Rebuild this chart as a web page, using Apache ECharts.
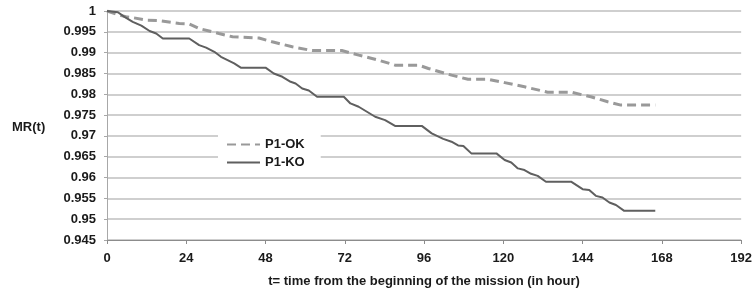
<!DOCTYPE html>
<html>
<head>
<meta charset="utf-8">
<script src="https://cdn.jsdelivr.net/npm/echarts@6/dist/echarts.min.js"></script>
<style>
	html,body{margin:0;padding:0;background:#fff;}
	#main{width:755px;height:293px;}
</style>
</head>
<body>
<div id="main"></div>
<script>
// hours and values
var okHours = [0, 3.8, 5.8, 7.8, 11.9, 15.4, 21.9, 24.9, 27.9, 30.9, 33.9, 38, 46, 50, 56.1, 62.1, 71.1, 76.2, 82.2, 87.2, 94.3, 97.3, 104.3, 109.3, 115.4, 120.4, 126.4, 133.4, 140.5, 146.5, 151.6, 155.6, 166];
var okValues = [1, 0.9990, 0.9986, 0.9984, 0.9978, 0.9977, 0.9970, 0.9969, 0.9958, 0.9952, 0.9946, 0.9938, 0.9935, 0.9926, 0.9914, 0.9905, 0.9905, 0.9894, 0.9882, 0.9870, 0.9870, 0.9862, 0.9846, 0.9836, 0.9836, 0.9828, 0.9818, 0.9805, 0.9805, 0.9794, 0.9782, 0.9774, 0.9774];

var koHours = [0, 3.3, 5.3, 7.8, 10.4, 12.9, 14.9, 16.9, 24.9, 27.9, 30, 32.5, 34.5, 36.5, 38.5, 40.5, 48, 50.5, 53.1, 55.6, 57.1, 59.1, 61.1, 63.6, 71.7, 73.7, 76.2, 78.7, 81.2, 84.2, 87.2, 95.3, 98.3, 101.8, 104.3, 106.3, 107.9, 110.3, 117.9, 120.4, 122.4, 124.4, 126.4, 128.4, 130.4, 132.9, 140.5, 144, 146, 148, 150, 152.1, 154.1, 156.6, 166];
var koValues = [1, 0.9997, 0.9986, 0.9974, 0.9965, 0.9952, 0.9946, 0.9934, 0.9934, 0.9918, 0.9912, 0.9902, 0.9890, 0.9882, 0.9874, 0.9864, 0.9864, 0.9850, 0.9842, 0.9830, 0.9826, 0.9814, 0.9809, 0.9794, 0.9794, 0.9778, 0.9770, 0.9758, 0.9746, 0.9738, 0.9724, 0.9724, 0.9706, 0.9693, 0.9686, 0.9677, 0.9676, 0.9658, 0.9658, 0.9642, 0.9636, 0.9622, 0.9618, 0.9609, 0.9604, 0.9590, 0.9590, 0.9572, 0.9570, 0.9556, 0.9552, 0.9540, 0.9534, 0.9520, 0.9520];

var seriesNames = ['P1-OK', 'P1-KO'];
var xTitle = 't= time from the beginning of the mission (in hour)';
var yTitle = 'MR(t)';

function pairs(xs, ys) {
	var out = [];
	for (var i = 0; i < xs.length; i++) {
		out.push([xs[i], ys[i]]);
	}
	return out;
}

var labelFont = {
	fontFamily: '"Liberation Sans", Arial, sans-serif',
	fontWeight: 'bold',
	fontSize: 13,
	color: '#1a1a1a'
};

var chart = echarts.init(document.getElementById('main'));

var option = {
	animation: false,
	grid: { left: 107, right: 12, top: 11, bottom: 53 },
	legend: {
		orient: 'vertical',
		left: 218,
		top: 132,
		padding: [6, 16, 4, 8],
		itemGap: 5,
		itemWidth: 33,
		itemHeight: 14,
		backgroundColor: '#fff',
		// only the line in the key, no dot
		itemStyle: { opacity: 0 },
		data: seriesNames,
		textStyle: labelFont
	},
	graphic: [{
		type: 'text',
		left: 12,
		top: 121,
		style: {
			text: yTitle,
			font: 'bold 13px "Liberation Sans", Arial, sans-serif',
			fill: '#1a1a1a'
		}
	}],
	xAxis: {
		type: 'value',
		min: 0,
		max: 192,
		interval: 24,
		name: xTitle,
		nameLocation: 'middle',
		nameGap: 35,
		nameTextStyle: labelFont,
		axisLine: { lineStyle: { color: '#8c8c8c', width: 1 } },
		axisTick: { show: true, length: 4, lineStyle: { color: '#8c8c8c' } },
		axisLabel: Object.assign({ margin: 12 }, labelFont),
		splitLine: { show: false }
	},
	yAxis: {
		type: 'value',
		min: 0.945,
		max: 1,
		interval: 0.005,
		axisLine: { show: true, lineStyle: { color: '#a8a8a8', width: 1 } },
		axisTick: { show: true, length: 3, lineStyle: { color: '#a8a8a8' } },
		axisLabel: Object.assign({
			margin: 11,
			formatter: function (v) { return String(parseFloat(v.toFixed(3))); }
		}, labelFont),
		splitLine: { show: true, lineStyle: { color: '#bfbfbf', width: 1.5 } }
	},
	series: [
		{
			name: seriesNames[0],
			type: 'line',
			symbol: 'none',
			smooth: false,
			z: 3,
			lineStyle: { color: '#999999', width: 3, type: [9, 5] },
			itemStyle: { color: '#999999' },
			data: pairs(okHours, okValues)
		},
		{
			name: seriesNames[1],
			type: 'line',
			symbol: 'none',
			smooth: false,
			z: 4,
			lineStyle: { color: '#5f5f5f', width: 2 },
			itemStyle: { color: '#5f5f5f' },
			data: pairs(koHours, koValues)
		}
	]
};

chart.setOption(option);
</script>
</body>
</html>
